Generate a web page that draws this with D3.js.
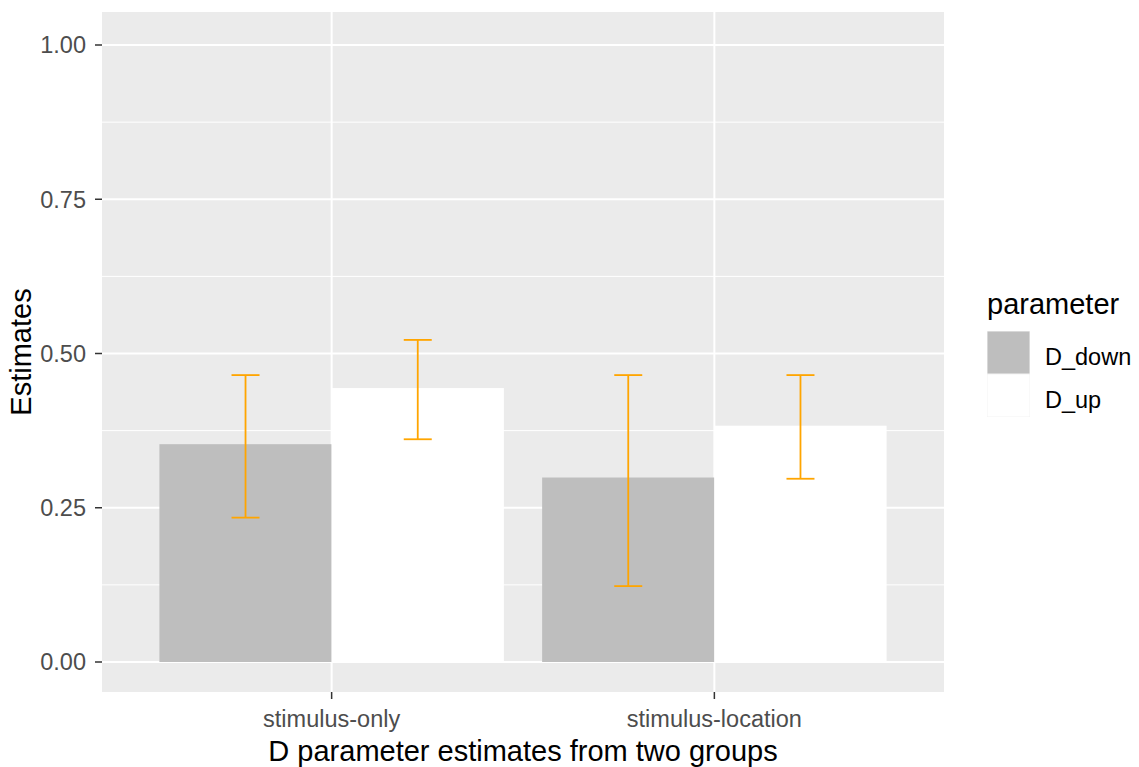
<html>
<head>
<style>
  body { margin: 0; background: #fff; }
  text { font-family: "Liberation Sans", Arial, sans-serif; }
</style>
</head>
<body>
<svg id="chart" width="1139" height="767"></svg>
<script src="https://cdn.jsdelivr.net/npm/d3@7"></script>
<script>
// data
let groups = ["stimulus-only", "stimulus-location"]
let params = ["D_down", "D_up"]
let estimates = [[0.353, 0.444], [0.299, 0.383]]
let lower = [[0.234, 0.361], [0.123, 0.297]]
let upper = [[0.465, 0.522], [0.465, 0.465]]
let yTicks = [0, 0.25, 0.5, 0.75, 1]
let yMinor = [0.125, 0.375, 0.625, 0.875]

let svg = d3.select("#chart")
let panel = { left: 102, right: 944, top: 12, bottom: 692 }

let y = d3.scaleLinear().domain([0, 1]).range([662, 45])
// each group is 1 unit wide, 0.6 unit expansion on each side, bars cover 0.9
let unit = (panel.right - panel.left) / 2.2
let xc = d3.scalePoint().domain(groups).range([panel.left + 0.6 * unit, panel.right - 0.6 * unit])
let xs = d3.scaleBand().domain(params).range([-0.45 * unit, 0.45 * unit])
let fill = d3.scaleOrdinal().domain(params).range(["#BEBEBE", "#FFFFFF"])

let tickSize = 23.5
let titleSize = 29

// panel background
svg.append("rect")
    .attr("x", panel.left).attr("y", panel.top)
    .attr("width", panel.right - panel.left).attr("height", panel.bottom - panel.top)
    .attr("fill", "#EBEBEB")

// grid
svg.selectAll(".minor").data(yMinor).enter().append("line")
    .attr("x1", panel.left).attr("x2", panel.right)
    .attr("y1", d => y(d)).attr("y2", d => y(d))
    .attr("stroke", "#fff").attr("stroke-width", 1)
svg.selectAll(".major").data(yTicks).enter().append("line")
    .attr("x1", panel.left).attr("x2", panel.right)
    .attr("y1", d => y(d)).attr("y2", d => y(d))
    .attr("stroke", "#fff").attr("stroke-width", 2)
svg.selectAll(".vmajor").data(groups).enter().append("line")
    .attr("x1", d => xc(d)).attr("x2", d => xc(d))
    .attr("y1", panel.top).attr("y2", panel.bottom)
    .attr("stroke", "#fff").attr("stroke-width", 2)

// bars
let rows = []
groups.forEach((g, i) => params.forEach((p, j) => rows.push({
    group: g, param: p, value: estimates[i][j], lo: lower[i][j], hi: upper[i][j]
})))

svg.selectAll(".bar").data(rows).enter().append("rect")
    .attr("x", d => xc(d.group) + xs(d.param))
    .attr("width", xs.bandwidth())
    .attr("y", d => y(d.value))
    .attr("height", d => y(0) - y(d.value))
    .attr("fill", d => fill(d.param))

// error bars
let capW = 28
let eb = svg.selectAll(".err").data(rows).enter().append("g")
    .attr("stroke", "#FFA500").attr("stroke-width", 1.8)
eb.append("line")
    .attr("x1", d => xc(d.group) + xs(d.param) + xs.bandwidth() / 2)
    .attr("x2", d => xc(d.group) + xs(d.param) + xs.bandwidth() / 2)
    .attr("y1", d => y(d.lo)).attr("y2", d => y(d.hi))
eb.selectAll(".cap").data(d => [d.lo, d.hi].map(v => ({ cx: xc(d.group) + xs(d.param) + xs.bandwidth() / 2, v: v })))
    .enter().append("line")
    .attr("x1", d => d.cx - capW / 2).attr("x2", d => d.cx + capW / 2)
    .attr("y1", d => y(d.v)).attr("y2", d => y(d.v))

// y axis
let yAxis = svg.append("g")
yAxis.selectAll("line").data(yTicks).enter().append("line")
    .attr("x1", panel.left - 7).attr("x2", panel.left)
    .attr("y1", d => y(d)).attr("y2", d => y(d))
    .attr("stroke", "#333").attr("stroke-width", 1.5)
yAxis.selectAll("text").data(yTicks).enter().append("text")
    .attr("x", panel.left - 16).attr("y", d => y(d))
    .attr("dy", "0.36em").attr("text-anchor", "end")
    .attr("font-size", tickSize).attr("fill", "#4D4D4D")
    .text(d => d3.format(".2f")(d))

// x axis
let xAxis = svg.append("g")
xAxis.selectAll("line").data(groups).enter().append("line")
    .attr("x1", d => xc(d)).attr("x2", d => xc(d))
    .attr("y1", panel.bottom).attr("y2", panel.bottom + 7)
    .attr("stroke", "#333").attr("stroke-width", 1.5)
xAxis.selectAll("text").data(groups).enter().append("text")
    .attr("x", d => xc(d)).attr("y", 726.5)
    .attr("text-anchor", "middle")
    .attr("font-size", tickSize).attr("fill", "#4D4D4D")
    .text(d => d)

// titles
svg.append("text").attr("x", (panel.left + panel.right) / 2).attr("y", 761)
    .attr("text-anchor", "middle").attr("font-size", titleSize).attr("fill", "#000")
    .text("D parameter estimates from two groups")
svg.append("text")
    .attr("transform", "translate(31," + (panel.top + panel.bottom) / 2 + ") rotate(-90)")
    .attr("text-anchor", "middle").attr("font-size", titleSize).attr("fill", "#000")
    .text("Estimates")

// legend
let legend = svg.append("g").attr("transform", "translate(987,0)")
legend.append("text").attr("x", 0).attr("y", 314)
    .attr("font-size", titleSize).attr("fill", "#000").text("parameter")
let keys = legend.selectAll(".key").data(params).enter().append("g")
    .attr("transform", (d, i) => "translate(0," + (331 + i * 43) + ")")
keys.append("rect").attr("width", 43).attr("height", 43)
    .attr("fill", "#F2F2F2")
keys.append("rect").attr("x", 0.5).attr("y", 0.5).attr("width", 42).attr("height", 42)
    .attr("fill", d => fill(d))
keys.append("text").attr("x", 58).attr("y", 34)
    .attr("font-size", tickSize).attr("fill", "#000").text(d => d)
</script>
</body>
</html>
